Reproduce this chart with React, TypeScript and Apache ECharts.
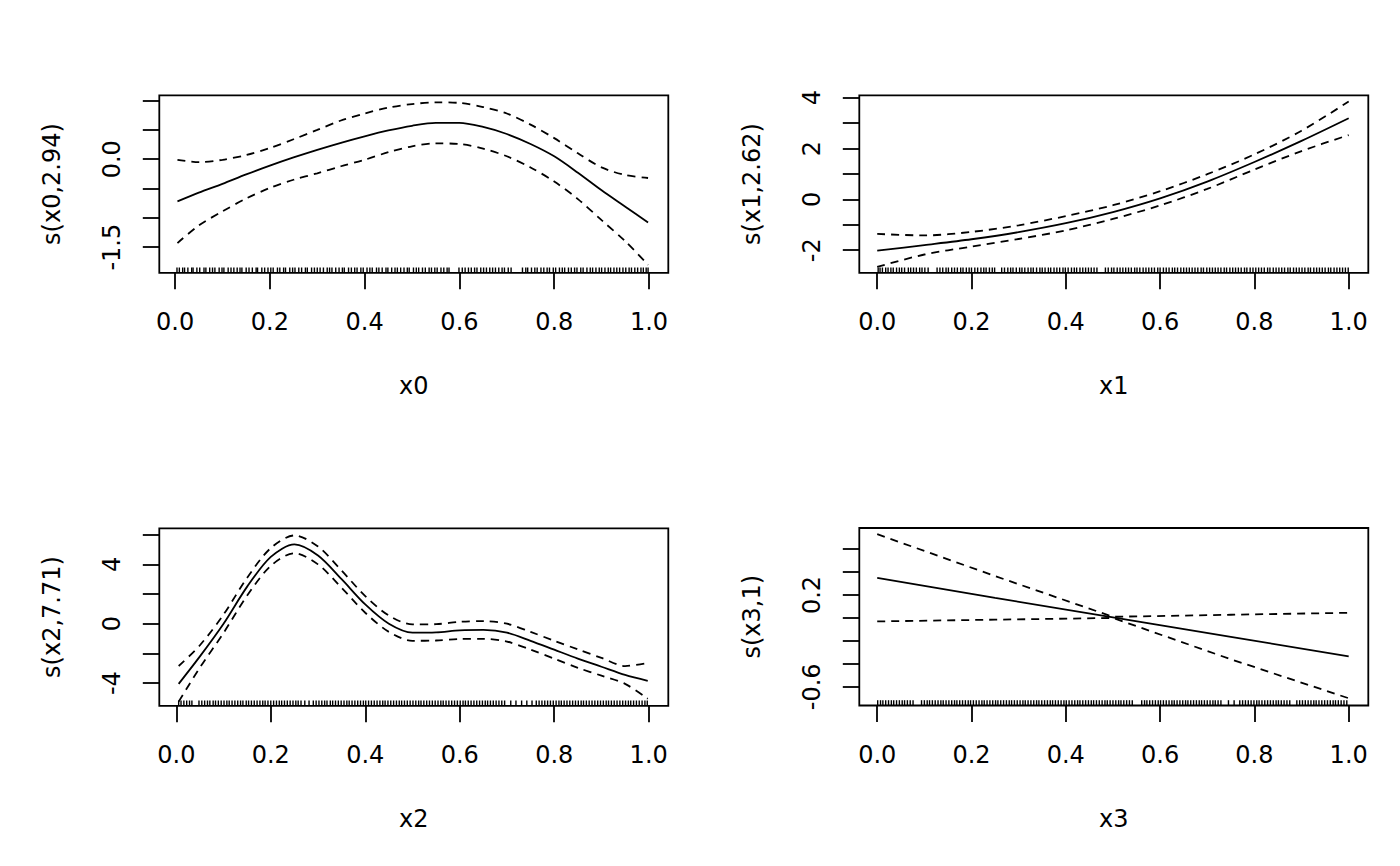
import React, { useEffect, useRef } from "react";
import * as echarts from "echarts";

// ---------- Panel 1: s(x0,2.94) ----------
const X_P1 = [0.005, 0.05, 0.1, 0.15, 0.2, 0.25, 0.3, 0.35, 0.4, 0.45, 0.5, 0.55, 0.6, 0.65, 0.7, 0.75, 0.8, 0.85, 0.9, 0.95, 0.998];
const FIT_P1 = [-0.72, -0.57, -0.42, -0.26, -0.11, 0.03, 0.16, 0.28, 0.39, 0.49, 0.57, 0.62, 0.62, 0.55, 0.43, 0.26, 0.05, -0.23, -0.53, -0.81, -1.08];
const UP_P1 = [-0.01, -0.05, -0.01, 0.07, 0.19, 0.34, 0.5, 0.66, 0.78, 0.88, 0.94, 0.97, 0.96, 0.89, 0.78, 0.59, 0.36, 0.1, -0.14, -0.27, -0.32];
const LO_P1 = [-1.43, -1.13, -0.89, -0.67, -0.49, -0.35, -0.24, -0.12, -0.01, 0.12, 0.22, 0.27, 0.26, 0.18, 0.05, -0.14, -0.38, -0.68, -1.04, -1.4, -1.8];
const RUG_P1 = [0.004,0.009,0.016,0.02,0.027,0.035,0.038,0.046,0.052,0.061,0.065,0.073,0.079,0.084,0.093,0.099,0.103,0.112,0.118,0.124,0.131,0.137,0.141,0.15,0.156,0.163,0.171,0.174,0.183,0.189,0.196,0.202,0.207,0.216,0.221,0.229,0.233,0.242,0.248,0.253,0.261,0.267,0.275,0.279,0.288,0.294,0.3,0.306,0.313,0.321,0.326,0.331,0.339,0.346,0.353,0.357,0.366,0.372,0.379,0.384,0.392,0.397,0.405,0.411,0.416,0.425,0.43,0.437,0.445,0.449,0.457,0.464,0.469,0.476,0.483,0.49,0.494,0.503,0.509,0.514,0.522,0.528,0.536,0.541,0.548,0.553,0.561,0.567,0.574,0.578,0.599,0.606,0.612,0.619,0.625,0.632,0.637,0.645,0.651,0.657,0.664,0.67,0.676,0.683,0.69,0.695,0.703,0.709,0.733,0.74,0.744,0.752,0.759,0.764,0.772,0.778,0.785,0.79,0.798,0.803,0.811,0.817,0.822,0.83,0.836,0.843,0.848,0.856,0.861,0.869,0.876,0.881,0.888,0.895,0.9,0.907,0.914,0.919,0.926,0.932,0.938,0.945,0.951,0.958,0.963,0.97,0.976,0.983,0.988,0.994,0.998];
const YTICKS_P1 = [-1.5, -1, -0.5, 0, 0.5, 1];
const YLABELS_P1 = [-1.5, 0];

// ---------- Panel 2: s(x1,2.62) ----------
const X_P2 = [0.0, 0.1, 0.2, 0.3, 0.4, 0.5, 0.6, 0.7, 0.8, 0.9, 1.0];
const FIT_P2 = [-2.02, -1.8, -1.57, -1.29, -0.94, -0.5, 0.04, 0.7, 1.47, 2.3, 3.19];
const UP_P2 = [-1.36, -1.42, -1.28, -1.02, -0.66, -0.23, 0.32, 0.99, 1.77, 2.7, 3.85];
const LO_P2 = [-2.66, -2.17, -1.86, -1.56, -1.22, -0.77, -0.24, 0.41, 1.17, 1.9, 2.53];
const RUG_P2 = [0.002,0.006,0.011,0.018,0.023,0.029,0.034,0.041,0.047,0.052,0.058,0.066,0.071,0.077,0.083,0.09,0.095,0.101,0.108,0.127,0.133,0.139,0.146,0.151,0.158,0.164,0.17,0.177,0.182,0.189,0.195,0.2,0.207,0.213,0.22,0.226,0.231,0.238,0.244,0.249,0.264,0.27,0.277,0.283,0.288,0.295,0.302,0.307,0.313,0.32,0.326,0.331,0.338,0.345,0.35,0.356,0.363,0.368,0.375,0.381,0.387,0.394,0.399,0.405,0.412,0.418,0.423,0.43,0.436,0.442,0.448,0.454,0.46,0.466,0.484,0.49,0.497,0.502,0.509,0.515,0.521,0.527,0.533,0.539,0.546,0.551,0.557,0.564,0.57,0.576,0.582,0.588,0.595,0.6,0.607,0.613,0.619,0.626,0.631,0.637,0.644,0.65,0.656,0.662,0.668,0.674,0.68,0.687,0.692,0.699,0.705,0.711,0.717,0.723,0.729,0.736,0.741,0.748,0.754,0.76,0.766,0.772,0.779,0.784,0.791,0.797,0.803,0.809,0.815,0.821,0.828,0.833,0.84,0.846,0.852,0.858,0.864,0.871,0.876,0.883,0.889,0.895,0.901,0.907,0.914,0.919,0.926,0.932,0.938,0.944,0.95,0.957,0.962,0.969,0.975,0.981,0.987,0.993,0.999];
const YTICKS_P2 = [-2, -1, 0, 1, 2, 3, 4];
const YLABELS_P2 = [-2, 0, 2, 4];

// ---------- Panel 3: s(x2,7.71) ----------
const X_P3 = [0.005, 0.05, 0.1, 0.15, 0.2, 0.25, 0.3, 0.35, 0.4, 0.45, 0.5, 0.55, 0.6, 0.65, 0.7, 0.75, 0.8, 0.85, 0.9, 0.95, 0.998];
const FIT_P3 = [-4.05, -2.2, 0.0, 2.5, 4.5, 5.35, 4.6, 3.0, 1.3, 0.0, -0.6, -0.58, -0.45, -0.42, -0.6, -1.15, -1.75, -2.35, -2.9, -3.45, -3.85];
const UP_P3 = [-2.85, -1.45, 0.62, 3.1, 5.1, 5.95, 5.2, 3.58, 1.86, 0.55, -0.05, -0.03, 0.13, 0.18, 0.0, -0.55, -1.15, -1.73, -2.3, -2.85, -2.65];
const LO_P3 = [-5.25, -2.95, -0.62, 1.9, 3.9, 4.75, 4.0, 2.42, 0.74, -0.55, -1.15, -1.13, -1.03, -1.02, -1.2, -1.75, -2.35, -2.97, -3.5, -4.05, -5.05];
const RUG_P3 = [0.005,0.01,0.016,0.022,0.028,0.033,0.048,0.054,0.06,0.066,0.071,0.078,0.083,0.089,0.095,0.101,0.107,0.112,0.118,0.124,0.13,0.136,0.141,0.148,0.153,0.159,0.165,0.171,0.177,0.183,0.188,0.194,0.2,0.206,0.212,0.218,0.223,0.229,0.235,0.241,0.247,0.253,0.258,0.264,0.272,0.281,0.29,0.296,0.302,0.308,0.314,0.319,0.326,0.331,0.337,0.343,0.349,0.355,0.361,0.366,0.372,0.378,0.384,0.39,0.396,0.401,0.407,0.413,0.419,0.425,0.431,0.437,0.442,0.448,0.454,0.46,0.466,0.472,0.477,0.483,0.489,0.495,0.501,0.507,0.513,0.518,0.524,0.53,0.536,0.542,0.548,0.554,0.56,0.565,0.571,0.577,0.583,0.589,0.595,0.601,0.607,0.612,0.618,0.624,0.63,0.636,0.642,0.648,0.654,0.659,0.665,0.671,0.677,0.683,0.689,0.695,0.708,0.719,0.731,0.742,0.753,0.762,0.768,0.774,0.78,0.786,0.792,0.798,0.804,0.81,0.815,0.821,0.827,0.833,0.839,0.845,0.851,0.857,0.862,0.868,0.874,0.88,0.886,0.892,0.898,0.904,0.91,0.915,0.921,0.927,0.933,0.939,0.945,0.951,0.957,0.962,0.968,0.974,0.98,0.986,0.992,0.997];
const YTICKS_P3 = [-4, -2, 0, 2, 4, 6];
const YLABELS_P3 = [-4, 0, 4];

// ---------- Panel 4: s(x3,1) ----------
const X_P4 = [0.0, 0.25, 0.5, 0.75, 1.0];
const FIT_P4 = [0.35, 0.175, 0.005, -0.165, -0.335];
const UP_P4 = [0.73, 0.365, 0.01, 0.028, 0.045];
const LO_P4 = [-0.03, -0.015, 0.0, -0.36, -0.7];
const RUG_P4 = [0.001,0.007,0.012,0.018,0.024,0.03,0.035,0.041,0.047,0.053,0.058,0.064,0.07,0.076,0.094,0.1,0.106,0.111,0.117,0.123,0.129,0.135,0.14,0.146,0.152,0.158,0.164,0.169,0.175,0.181,0.187,0.193,0.198,0.204,0.21,0.216,0.222,0.227,0.233,0.239,0.245,0.251,0.256,0.262,0.268,0.274,0.28,0.285,0.291,0.297,0.303,0.309,0.314,0.32,0.326,0.332,0.338,0.343,0.349,0.355,0.361,0.367,0.372,0.378,0.384,0.39,0.396,0.401,0.407,0.413,0.419,0.425,0.43,0.436,0.442,0.448,0.454,0.459,0.465,0.471,0.477,0.483,0.488,0.494,0.5,0.506,0.512,0.517,0.523,0.529,0.535,0.541,0.561,0.567,0.572,0.578,0.584,0.59,0.596,0.601,0.607,0.613,0.619,0.625,0.63,0.636,0.642,0.648,0.654,0.659,0.665,0.671,0.677,0.683,0.688,0.694,0.7,0.706,0.712,0.717,0.723,0.729,0.745,0.757,0.769,0.775,0.781,0.787,0.793,0.799,0.805,0.81,0.816,0.822,0.828,0.834,0.84,0.846,0.851,0.857,0.863,0.869,0.875,0.89,0.896,0.902,0.908,0.914,0.92,0.926,0.931,0.937,0.943,0.949,0.955,0.961,0.967,0.972,0.978,0.984,0.99,0.996];
const YTICKS_P4 = [-0.6, -0.4, -0.2, 0, 0.2, 0.4, 0.6];
const YLABELS_P4 = [-0.6, 0.2];

const XTICKS = [0, 0.2, 0.4, 0.6, 0.8, 1.0];
const X_NAMES = ["x0", "x1", "x2", "x3"];
const Y_NAMES = ["s(x0,2.94)", "s(x1,2.62)", "s(x2,7.71)", "s(x3,1)"];

const FONT = "DejaVu Sans";
const INK = "#000";

type Panel = {
  xs: number[]; fit: number[]; up: number[]; lo: number[]; rug: number[];
  yTicks: number[]; yLabels: number[]; yDec: number; smooth: number | boolean;
  left: number; top: number; xMin: number; xMax: number; yMin: number; yMax: number;
};

const PANELS: Panel[] = [
  { xs: X_P1, fit: FIT_P1, up: UP_P1, lo: LO_P1, rug: RUG_P1, yTicks: YTICKS_P1, yLabels: YLABELS_P1, yDec: 1, smooth: 0.3,
    left: 159.3, top: 95.3, xMin: -0.0333, xMax: 1.0407, yMin: -1.937, yMax: 1.09 },
  { xs: X_P2, fit: FIT_P2, up: UP_P2, lo: LO_P2, rug: RUG_P2, yTicks: YTICKS_P2, yLabels: YLABELS_P2, yDec: 0, smooth: 0.3,
    left: 859.3, top: 95.3, xMin: -0.038, xMax: 1.0416, yMin: -2.89, yMax: 4.094 },
  { xs: X_P3, fit: FIT_P3, up: UP_P3, lo: LO_P3, rug: RUG_P3, yTicks: YTICKS_P3, yLabels: YLABELS_P3, yDec: 0, smooth: 0.3,
    left: 159.3, top: 528.3, xMin: -0.036, xMax: 1.0415, yMin: -5.53, yMax: 6.43 },
  { xs: X_P4, fit: FIT_P4, up: UP_P4, lo: LO_P4, rug: RUG_P4, yTicks: YTICKS_P4, yLabels: YLABELS_P4, yDec: 1, smooth: false,
    left: 859.3, top: 528.0, xMin: -0.038, xMax: 1.0416, yMin: -0.763, yMax: 0.784 },
];

const PLOT_W = 509;
const PLOT_H = 177.5;
const LW = 1.8;

function buildOption() {
  const grid: any[] = [];
  const xAxis: any[] = [];
  const yAxis: any[] = [];
  const series: any[] = [];
  const textStyle = { fontSize: 24, fontFamily: FONT, color: INK, lineHeight: 24 };

  PANELS.forEach((p, i) => {
    grid.push({
      left: p.left, top: p.top, width: PLOT_W, height: PLOT_H,
      show: true, borderColor: INK, borderWidth: LW, backgroundColor: "transparent",
    });
    xAxis.push({
      type: "value", gridIndex: i, min: p.xMin, max: p.xMax, position: "bottom",
      axisLine: { show: false, onZero: false }, splitLine: { show: false },
      axisTick: { show: true, length: 16.5, customValues: XTICKS, lineStyle: { color: INK, width: LW } },
      axisLabel: { ...textStyle, margin: 37, customValues: XTICKS, formatter: (v: number) => v.toFixed(1) },
      name: X_NAMES[i], nameLocation: "middle", nameGap: 101, nameTextStyle: textStyle,
    });
    yAxis.push({
      type: "value", gridIndex: i, min: p.yMin, max: p.yMax, position: "left",
      axisLine: { show: false, onZero: false }, splitLine: { show: false },
      axisTick: { show: true, length: 16.5, customValues: p.yTicks, lineStyle: { color: INK, width: LW } },
      axisLabel: { ...textStyle, rotate: 90, margin: 35, customValues: p.yLabels, formatter: (v: number) => v.toFixed(p.yDec) },
      name: Y_NAMES[i], nameLocation: "middle", nameGap: 95, nameTextStyle: textStyle,
    });
    const mk = (ys: number[]) => p.xs.map((x, k) => [x, ys[k]]);
    const base = { type: "line", xAxisIndex: i, yAxisIndex: i, showSymbol: false, symbol: "none", smooth: p.smooth, silent: true, clip: true };
    series.push({ ...base, name: `fit${i}`, data: mk(p.fit), lineStyle: { color: INK, width: LW, type: "solid" } });
    series.push({ ...base, name: `up${i}`, data: mk(p.up), lineStyle: { color: INK, width: LW, type: [8, 6] } });
    series.push({ ...base, name: `lo${i}`, data: mk(p.lo), lineStyle: { color: INK, width: LW, type: [8, 6] } });
    const yBase = p.yMin;
    series.push({
      type: "custom", xAxisIndex: i, yAxisIndex: i, silent: true,
      data: p.rug.map((x) => [x, yBase]),
      renderItem: (params: any, api: any) => {
        const pt = api.coord([api.value(0), yBase]);
        return {
          type: "line",
          shape: { x1: pt[0], y1: pt[1], x2: pt[0], y2: pt[1] - 5.3 },
          style: { stroke: INK, lineWidth: 1.4 },
        };
      },
    });
  });

  return { animation: false, backgroundColor: "#fff", grid, xAxis, yAxis, series };
}

export default function App() {
  const ref = useRef<HTMLDivElement>(null);
  useEffect(() => {
    document.body.style.margin = "0";
    if (!ref.current) return;
    const chart = echarts.init(ref.current, undefined, { renderer: "svg" });
    chart.setOption(buildOption() as any);
    return () => chart.dispose();
  }, []);
  return (
    <div
      ref={ref}
      style={{ position: "absolute", left: 0, top: 0, width: 1400, height: 866, background: "#fff" }}
    />
  );
}
